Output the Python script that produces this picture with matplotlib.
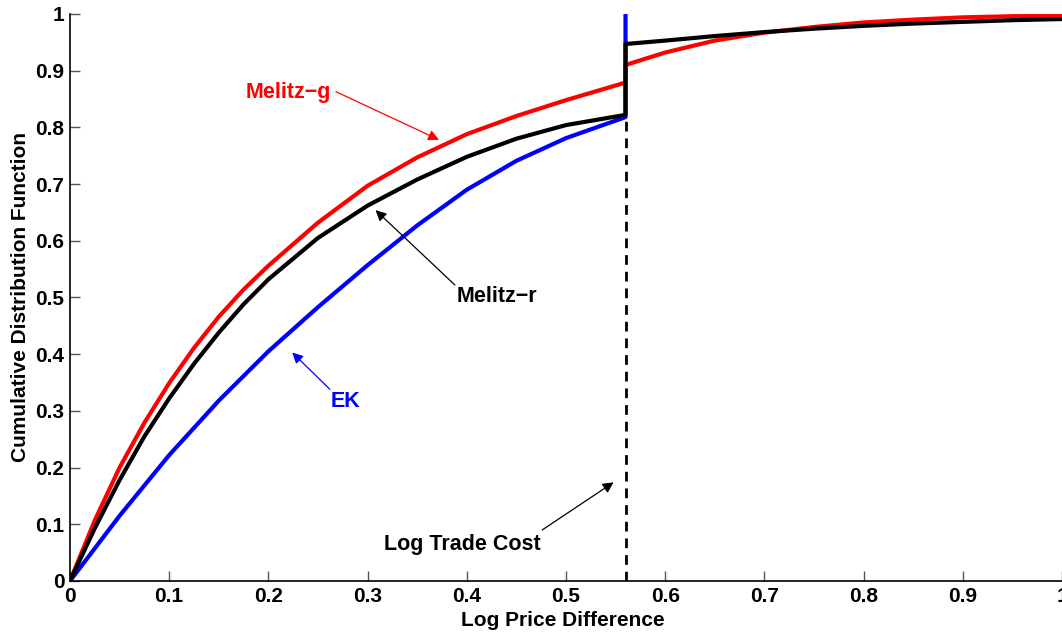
import matplotlib.pyplot as plt

plt.rcParams['font.family'] = ['Liberation Sans', 'DejaVu Sans']
plt.rcParams['font.weight'] = 'bold'

# Melitz-g (red)
melitz_g_x = [0, 0.025, 0.05, 0.075, 0.1, 0.125, 0.15, 0.175, 0.2, 0.25, 0.3,
              0.35, 0.4, 0.45, 0.5, 0.56, 0.56, 0.6, 0.65, 0.7, 0.75, 0.8,
              0.85, 0.9, 0.95, 1.0]
melitz_g_y = [0, 0.107, 0.2, 0.279, 0.349, 0.411, 0.466, 0.514, 0.556, 0.632,
              0.697, 0.747, 0.788, 0.82, 0.848, 0.879, 0.91, 0.932, 0.953,
              0.967, 0.977, 0.985, 0.99, 0.994, 0.996, 0.997]

# Melitz-r (black)
melitz_r_x = [0, 0.025, 0.05, 0.075, 0.1, 0.125, 0.15, 0.175, 0.2, 0.25, 0.3,
              0.35, 0.4, 0.45, 0.5, 0.56, 0.56, 0.6, 0.65, 0.7, 0.75, 0.8,
              0.85, 0.9, 0.95, 1.0]
melitz_r_y = [0, 0.093, 0.178, 0.255, 0.322, 0.383, 0.438, 0.488, 0.532,
              0.605, 0.662, 0.708, 0.748, 0.78, 0.804, 0.822, 0.947, 0.953,
              0.961, 0.968, 0.974, 0.979, 0.983, 0.986, 0.989, 0.991]

# EK (blue)
ek_x = [0, 0.05, 0.1, 0.15, 0.2, 0.25, 0.3, 0.35, 0.4, 0.45, 0.5, 0.56, 0.56]
ek_y = [0, 0.115, 0.222, 0.318, 0.405, 0.483, 0.557, 0.627, 0.69, 0.741,
        0.781, 0.818, 1.0]

trade_cost = 0.56
trade_cost_top = 0.82

ticks = [0, 0.1, 0.2, 0.3, 0.4, 0.5, 0.6, 0.7, 0.8, 0.9, 1]
tick_labels = ['0', '0.1', '0.2', '0.3', '0.4', '0.5', '0.6', '0.7', '0.8',
               '0.9', '1']

fig = plt.figure(figsize=(10.62, 6.34), dpi=100)
ax = fig.add_axes([0.0659, 0.0836, 0.9341, 0.8944])

ax.plot([trade_cost, trade_cost], [0, trade_cost_top], color='black',
        linestyle=(0, (3.5, 2.5)), linewidth=2)
ax.plot(ek_x, ek_y, color='blue', linewidth=3)
ax.plot(melitz_g_x, melitz_g_y, color='red', linewidth=3)
ax.plot(melitz_r_x, melitz_r_y, color='black', linewidth=3)

ax.set_xlim(0, 1)
ax.set_ylim(0, 1)
ax.set_xticks(ticks)
ax.set_yticks(ticks)
ax.set_xticklabels(tick_labels)
ax.set_yticklabels(tick_labels)
ax.tick_params(direction='in', length=7, width=1, color='#555555',
               labelsize=15, pad=4)
ax.spines['top'].set_visible(False)
ax.spines['right'].set_visible(False)
ax.spines['left'].set_linewidth(1.2)
ax.spines['bottom'].set_linewidth(1.2)

ax.set_xlabel('Log Price Difference', fontsize=15, fontweight='bold')
ax.set_ylabel('Cumulative Distribution Function', fontsize=15,
              fontweight='bold')
ax.xaxis.set_label_coords(0.497, -0.053)
ax.yaxis.set_label_coords(-0.04, 0.5)

# labels and their arrows
labels = [
    ('Melitz\u2212g', 'red', (0.22, 0.862), (0.268, 0.863), (0.372, 0.778)),
    ('Melitz\u2212r', 'black', (0.43, 0.501), (0.388, 0.522), (0.308, 0.654)),
    ('EK', 'blue', (0.278, 0.316), (0.262, 0.338), (0.224, 0.403)),
    ('Log Trade Cost', 'black', (0.395, 0.0635), (0.476, 0.09),
     (0.548, 0.174)),
]
for text, color, pos, tail, tip in labels:
    ax.text(pos[0], pos[1], text, color=color, fontsize=15.5,
            fontweight='bold', ha='center', va='center')
    ax.annotate('', xy=tip, xytext=tail,
                arrowprops=dict(arrowstyle='-|>', color=color, lw=0.9,
                                mutation_scale=16, shrinkA=0, shrinkB=0))

fig.savefig('out.png', dpi=100)
